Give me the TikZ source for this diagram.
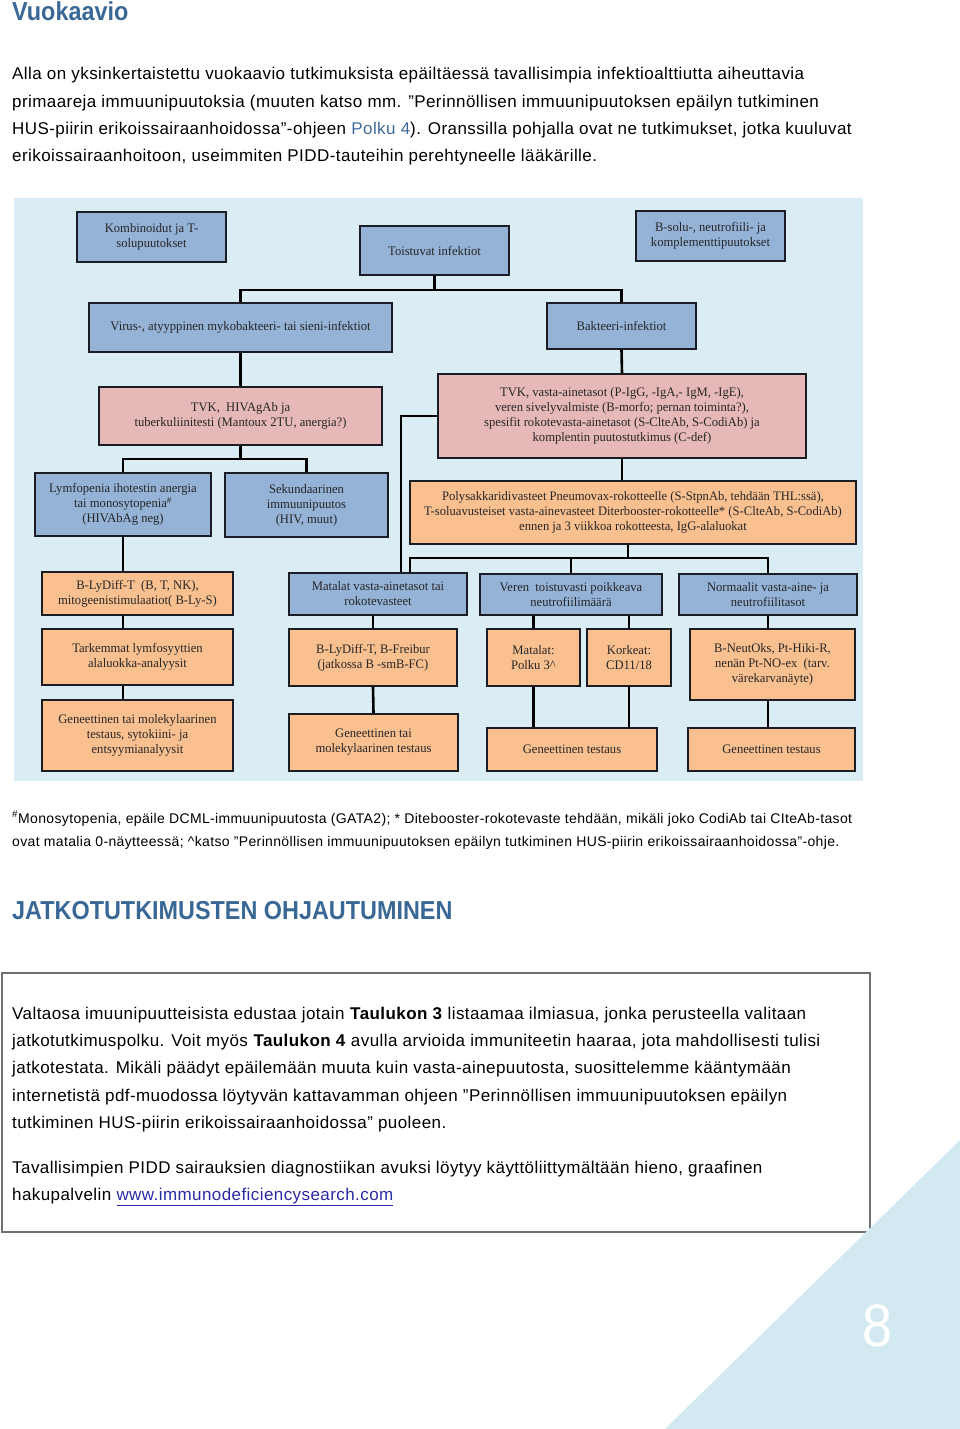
\documentclass[tikz,border=0pt]{standalone}
\usepackage{fontspec}
\setmainfont{Liberation Serif}
\newfontfamily\pagefont[LetterSpace=2.5]{Liberation Sans}
\newfontfamily\headfont[FakeStretch=0.9]{Liberation Sans}
\newfontfamily\chartfont[FakeStretch=0.97]{Liberation Serif}
\definecolor{chartbg}{HTML}{DAEDF4}
\definecolor{boxblue}{HTML}{95B3D7}
\definecolor{boxpink}{HTML}{E6B9B8}
\definecolor{boxorange}{HTML}{FAC090}
\definecolor{boxline}{HTML}{1C1C24}
\definecolor{headblue}{HTML}{3A6896}
\definecolor{linkblue}{HTML}{3F6B9A}
\definecolor{urlblue}{HTML}{2A2AA5}
\definecolor{cornerblue}{HTML}{D3E9F1}
\definecolor{framegray}{HTML}{707070}
\tikzset{
  boxsize/.style 2 args={minimum width=#1pt, minimum height=#2pt},
  chartbox/.style={draw=boxline, line width=1.8pt, align=center, inner sep=1pt,
    font=\chartfont\fontsize{13}{15}\selectfont, text=black!85},
  bluebox/.style={chartbox, fill=boxblue},
  pinkbox/.style={chartbox, fill=boxpink},
  orangebox/.style={chartbox, fill=boxorange},
  link/.style={line width=2.6pt, black},
  bodyline/.style={anchor=base west, inner sep=0pt, font=\pagefont\fontsize{17}{20}\selectfont},
  noteline/.style={anchor=base west, inner sep=0pt, font=\pagefont\fontsize{14}{16}\selectfont},
  headline/.style={anchor=base west, inner sep=0pt, text=headblue,
    font=\headfont\bfseries\fontsize{26}{30}\selectfont},
}

\begin{document}
\begin{tikzpicture}[x=1pt, y=-1pt]
\useasboundingbox (0,0) rectangle (960,1429);

% =====================================================
% Heading and intro
% =====================================================
\node[headline] (title) at (12,21) {Vuokaavio};
\node[bodyline] (intro1) at (12,80) {Alla on yksinkertaistettu vuokaavio tutkimuksista epäiltäessä tavallisimpia infektioalttiutta aiheuttavia};
\node[bodyline] (intro2) at (12,107) {primaareja immuunipuutoksia (muuten katso mm. ”Perinnöllisen immuunipuutoksen epäilyn tutkiminen};
\node[bodyline] (intro3) at (12,134) {HUS-piirin erikoissairaanhoidossa”-ohjeen \textcolor{linkblue}{Polku 4}). Oranssilla pohjalla ovat ne tutkimukset, jotka kuuluvat};
\node[bodyline] (intro4) at (12,161) {erikoissairaanhoitoon, useimmiten PIDD-tauteihin perehtyneelle lääkärille.};

% =====================================================
% Flow chart
% =====================================================
\fill[chartbg] (14,198) rectangle (863,781);

% top row
\node[bluebox, boxsize={149}{50}] (komb) at (151.5,237) {Kombinoidut ja T-\\solupuutokset};
\node[bluebox, boxsize={149}{49}] (toist) at (434.5,250.5) {Toistuvat infektiot};
\node[bluebox, boxsize={149}{50}] (bsolu) at (710.5,236) {B-solu-, neutrofiili- ja\\komplementtipuutokset};

% infection type
\node[bluebox, boxsize={303}{49}] (virus) at (240.5,327.5) {Virus-, atyyppinen mykobakteeri- tai sieni-infektiot};
\node[bluebox, boxsize={149}{46}] (bakt) at (621.5,326) {Bakteeri-infektiot};

% first tests
\node[pinkbox, boxsize={283}{58}] (tvkhiv) at (240.5,416) {TVK, \ HIVAgAb ja\\tuberkuliinitesti (Mantoux 2TU, anergia?)};
\node[pinkbox, boxsize={368}{84}] (tvkvasta) at (622,416) {TVK, vasta-ainetasot (P-IgG, -IgA,- IgM, -IgE),\\veren sivelyvalmiste (B-morfo; pernan toiminta?),\\spesifit rokotevasta-ainetasot (S-ClteAb, S-CodiAb) ja\\komplentin puutostutkimus (C-def)};

% findings
\node[bluebox, boxsize={176}{63}] (lymfo) at (123,504.5) {Lymfopenia ihotestin anergia\\tai monosytopenia\textsuperscript{\#}\\(HIVAbAg neg)};
\node[bluebox, boxsize={163}{64}] (sekund) at (306.5,505) {Sekundaarinen\\immuunipuutos\\(HIV, muut)};
\node[orangebox, boxsize={446}{63}] (polysak) at (633,512.5) {Polysakkaridivasteet Pneumovax-rokotteelle (S-StpnAb, tehdään THL:ssä),\\T-soluavusteiset vasta-ainevasteet Diterbooster-rokotteelle* (S-ClteAb, S-CodiAb)\\ennen ja 3 viikkoa rokotteesta, IgG-alaluokat};

% row 5
\node[orangebox, boxsize={191}{43}] (blydiff) at (137.5,593.5) {B-LyDiff-T \ (B, T, NK),\\mitogeenistimulaatiot( B-Ly-S)};
\node[bluebox, boxsize={178}{42}] (matalat) at (378,594) {Matalat vasta-ainetasot tai\\rokotevasteet};
\node[bluebox, boxsize={182}{41}] (veren) at (571,594.5) {Veren \ toistuvasti poikkeava\\neutrofiilimäärä};
\node[bluebox, boxsize={178}{41}] (normaalit) at (768,594.5) {Normaalit vasta-aine- ja\\neutrofiilitasot};

% row 6
\node[orangebox, boxsize={191}{56}] (tarkemmat) at (137.5,657) {Tarkemmat lymfosyyttien\\alaluokka-analyysit};
\node[orangebox, boxsize={168}{57}] (freibur) at (373,657.5) {B-LyDiff-T, B-Freibur\\(jatkossa B -smB-FC)};
\node[orangebox, boxsize={93}{57}] (polku3) at (533.5,657.5) {Matalat:\\Polku 3\textasciicircum};
\node[orangebox, boxsize={84}{57}] (korkeat) at (629,657.5) {Korkeat:\\CD11/18};
\node[orangebox, boxsize={165}{71}] (neutoks) at (772.5,664.5) {B-NeutOks, Pt-Hiki-R,\\nenän Pt-NO-ex \ (tarv.\\värekarvanäyte)};

% genetic testing
\node[orangebox, boxsize={191}{71}] (gensyto) at (137.5,735.5) {Geneettinen tai molekylaarinen\\testaus, sytokiini- ja\\entsyymianalyysit};
\node[orangebox, boxsize={169}{57}] (genmol) at (373.5,742.5) {Geneettinen tai\\molekylaarinen testaus};
\node[orangebox, boxsize={170}{43}] (gentest1) at (572,749.5) {Geneettinen testaus};
\node[orangebox, boxsize={167}{43}] (gentest2) at (771.5,749.5) {Geneettinen testaus};

% connectors
\coordinate (row1) at (0,290);
\coordinate (row2) at (0,459);
\coordinate (row3) at (0,558);
\coordinate (polyout) at ([xshift=-5pt]polysak.south);
\coordinate (matin1) at ([xshift=23pt]matalat.north);
\coordinate (matin2) at ([xshift=32pt]matalat.north);

\draw[link] (toist.south) -- (toist.south |- row1) -| (virus.north);
\draw[link] (toist.south |- row1) -| (bakt.north);
\draw[link] (virus.south) -- (tvkhiv.north);
\draw[link] (bakt.south) -- (tvkvasta.north);
\draw[link] (tvkhiv.south) -- (tvkhiv.south |- row2) -| (lymfo.north);
\draw[link] (tvkhiv.south |- row2) -| (sekund.north);
\draw[link] (lymfo.south) -- (lymfo.south |- blydiff.north);
\draw[link] (lymfo.south |- blydiff.south) -- (lymfo.south |- tarkemmat.north);
\draw[link] (lymfo.south |- tarkemmat.south) -- (lymfo.south |- gensyto.north);
\draw[link] (tvkvasta.west) -| (matin1);
\draw[link] (tvkvasta.south) -- (tvkvasta.south |- polysak.north);
\draw[link] (polyout) -- (polyout |- row3) -| (matin2);
\draw[link] (polyout |- row3) -| (veren.north);
\draw[link] (polyout |- row3) -| (normaalit.north);
\draw[link] (matalat.south -| freibur.north) -- (freibur.north);
\draw[link] (freibur.south) -- (genmol.north);
\draw[link] (veren.south -| polku3.north) -- (polku3.north);
\draw[link] (veren.south -| korkeat.north) -- (korkeat.north);
\draw[link] (polku3.south) -- (polku3.south |- gentest1.north);
\draw[link] (korkeat.south) -- (korkeat.south |- gentest1.north);
\draw[link] (normaalit.south) -- (normaalit.south |- neutoks.north);
\draw[link] (neutoks.south -| normaalit.south) -- (normaalit.south |- gentest2.north);

% =====================================================
% Footnote and follow-up box
% =====================================================
\node[noteline] (note1) at (12,823) {\textsuperscript{\#}Monosytopenia, epäile DCML-immuunipuutosta (GATA2); * Ditebooster-rokotevaste tehdään, mikäli joko CodiAb tai CIteAb-tasot};
\node[noteline] (note2) at (12,846) {ovat matalia 0-näytteessä; \textasciicircum katso ”Perinnöllisen immuunipuutoksen epäilyn tutkiminen HUS-piirin erikoissairaanhoidossa”-ohje.};

\node[headline] (jatko) at (12,919) {JATKOTUTKIMUSTEN OHJAUTUMINEN};

\draw[framegray, line width=1.2pt] (2,973) rectangle (870,1232);
\node[bodyline] (box1) at (12,1019) {Valtaosa imuunipuutteisista edustaa jotain \textbf{Taulukon 3} listaamaa ilmiasua, jonka perusteella valitaan};
\node[bodyline] (box2) at (12,1046) {jatkotutkimuspolku. Voit myös \textbf{Taulukon 4} avulla arvioida immuniteetin haaraa, jota mahdollisesti tulisi};
\node[bodyline] (box3) at (12,1073) {jatkotestata. Mikäli päädyt epäilemään muuta kuin vasta-ainepuutosta, suosittelemme kääntymään};
\node[bodyline] (box4) at (12,1101) {internetistä pdf-muodossa löytyvän kattavamman ohjeen ”Perinnöllisen immuunipuutoksen epäilyn};
\node[bodyline] (box5) at (12,1128) {tutkiminen HUS-piirin erikoissairaanhoidossa” puoleen.};
\node[bodyline] (box6) at (12,1173) {Tavallisimpien PIDD sairauksien diagnostiikan avuksi löytyy käyttöliittymältään hieno, graafinen};
\node[bodyline] (box7) at (12,1200) {hakupalvelin \textcolor{urlblue}{\underline{www.immunodeficiencysearch.com}}};

% page corner
\fill[cornerblue] (665,1429) -- (960,1140) -- (960,1429) -- cycle;
\node[text=white, font=\headfont\fontsize{60}{60}\selectfont] (pagenum) at (878,1326) {8};

\end{tikzpicture}
\end{document}
